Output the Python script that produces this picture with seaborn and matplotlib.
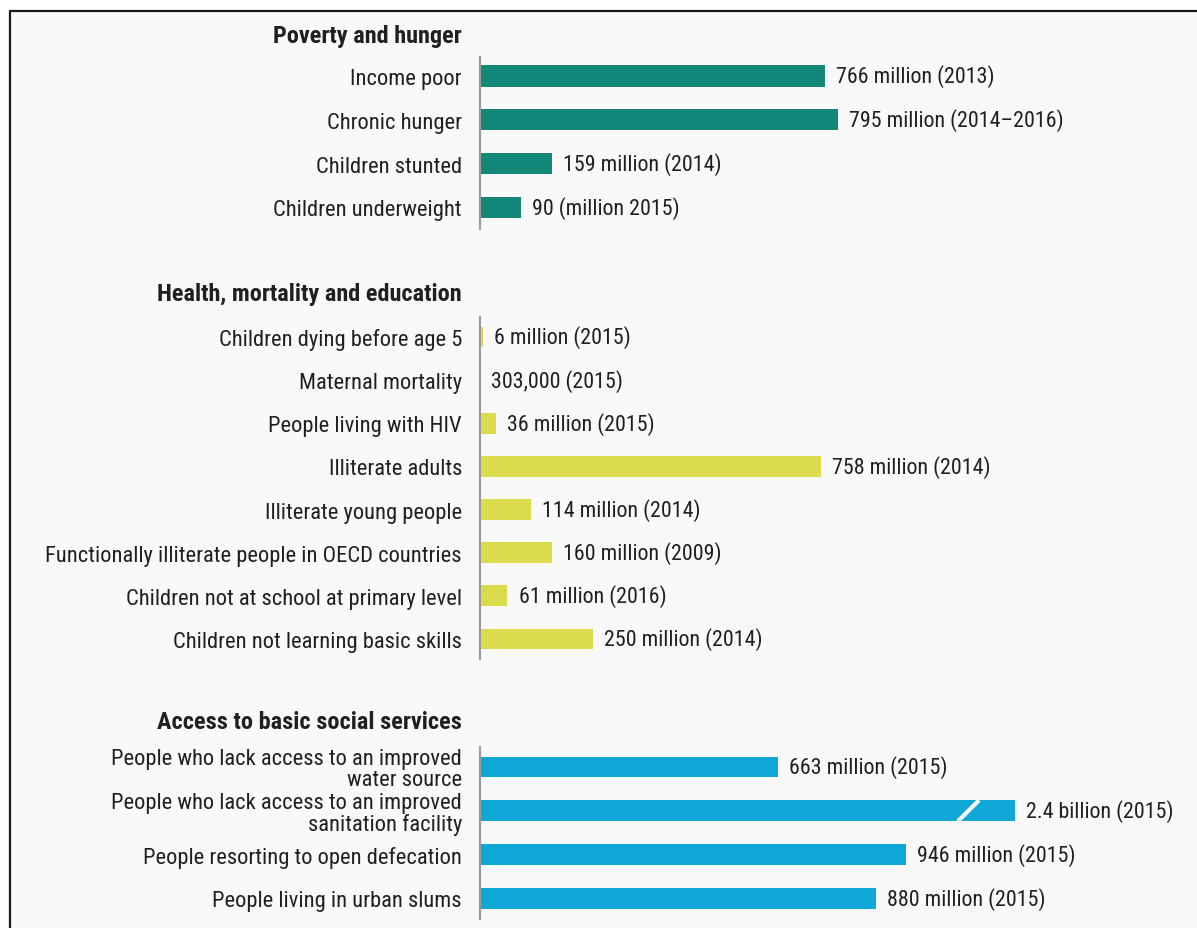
import numpy as np
import pandas as pd
import matplotlib
matplotlib.use("Agg")
import matplotlib.pyplot as plt
from matplotlib import font_manager
from matplotlib.patches import Rectangle
import seaborn as sns

# ---- data (values in millions of people) ----
section_titles = ["Poverty and hunger",
                  "Health, mortality and education",
                  "Access to basic social services"]

poverty_labels = ["Income poor", "Chronic hunger", "Children stunted",
                  "Children underweight"]
poverty_values = [766, 795, 159, 90]
poverty_notes = ["766 million (2013)", "795 million (2014\u20132016)",
                 "159 million (2014)", "90 (million 2015)"]

health_labels = ["Children dying before age 5", "Maternal mortality",
                 "People living with HIV", "Illiterate adults",
                 "Illiterate young people",
                 "Functionally illiterate people in OECD countries",
                 "Children not at school at primary level",
                 "Children not learning basic skills"]
health_values = [6, 0.303, 36, 758, 114, 160, 61, 250]
health_notes = ["6 million (2015)", "303,000 (2015)", "36 million (2015)",
                "758 million (2014)", "114 million (2014)",
                "160 million (2009)", "61 million (2016)",
                "250 million (2014)"]

services_labels = ["People who lack access to an improved\nwater source",
                   "People who lack access to an improved\nsanitation facility",
                   "People resorting to open defecation",
                   "People living in urban slums"]
services_values = [663, 2400, 946, 880]
services_notes = ["663 million (2015)", "2.4 billion (2015)",
                  "946 million (2015)", "880 million (2015)"]

# ---- style ----
W, H = 1197, 929
sns.set_theme(style="white")

# prefer a condensed face; fall back to DejaVu Sans at a smaller size
installed = {f.name for f in font_manager.fontManager.ttflist}
narrow = [n for n in ("Roboto Condensed", "Liberation Sans Narrow",
                      "DejaVu Sans Condensed") if n in installed]
if narrow:
    plt.rcParams["font.family"] = [narrow[0], "DejaVu Sans"]
    FS, FS_NOTE, FS_HEAD = 16.2, 15.8, 17.5
else:
    plt.rcParams["font.family"] = ["DejaVu Sans"]
    FS, FS_NOTE, FS_HEAD = 12.8, 12.6, 13.5

TEXT = "#231f20"
TEAL, LIME, BLUE = "#138878", "#dadc4c", "#0fa8d6"
PX_PER_MILLION = 0.45
AX_LEFT, AX_RIGHT = 480, 1190
X_MAX = (AX_RIGHT - AX_LEFT) / PX_PER_MILLION
BAR_CAP = 1189          # bars longer than this are drawn broken
BAR_WIDTH = 0.48

fig = plt.figure(figsize=(W / 100, H / 100), dpi=100)
fig.patch.set_facecolor("white")

# panel background with a dark frame on top and left
fig.patches.append(Rectangle((10 / W, -0.05), 1.2, (1 - 12 / H) + 0.05,
                             transform=fig.transFigure, facecolor="#f9f9f9",
                             edgecolor="#1a1a1a", lw=1.6, zorder=-5))


def add_section(title, title_y, top, bottom, first_center, pitch,
                labels, values, notes, color):
    ax = fig.add_axes([AX_LEFT / W, 1 - bottom / H,
                       (AX_RIGHT - AX_LEFT) / W, (bottom - top) / H])
    drawn = [min(v, BAR_CAP) for v in values]
    df = pd.DataFrame({"label": labels, "value": drawn})
    sns.barplot(data=df, x="value", y="label", orient="h", color=color,
                saturation=1, width=BAR_WIDTH, ax=ax, linewidth=0)
    ax.set_xlim(0, X_MAX)
    ax.set_ylim((bottom - first_center) / pitch, (top - first_center) / pitch)
    ax.set_facecolor("none")
    for side in ("top", "right", "bottom"):
        ax.spines[side].set_visible(False)
    ax.spines["left"].set_color("#9b9b9b")
    ax.spines["left"].set_linewidth(1.5)
    ax.set_xticks([])
    ax.set_xlabel("")
    ax.set_ylabel("")
    ax.tick_params(axis="y", length=0, pad=13, labelsize=FS,
                   labelcolor=TEXT)
    for t in ax.get_yticklabels():
        t.set_linespacing(1.0)

    for i, (v, d, note) in enumerate(zip(values, drawn, notes)):
        ax.annotate(note, xy=(d, i), xytext=(8, 0),
                    textcoords="offset points", va="center", ha="left",
                    fontsize=FS_NOTE, color=TEXT)
        if v > BAR_CAP:
            # diagonal break mark on a truncated bar
            x0 = BAR_CAP - 127
            ax.plot([x0, x0 + 47], [i + BAR_WIDTH / 2, i - BAR_WIDTH / 2],
                    color="#f9f9f9", lw=3, solid_capstyle="butt")

    fig.text(462 / W, 1 - title_y / H, title, ha="right", va="center",
             fontsize=FS_HEAD, fontweight="bold", color=TEXT)
    return ax


add_section(section_titles[0], 36, 58, 230, 77, 43.8,
            poverty_labels, poverty_values, poverty_notes, TEAL)
add_section(section_titles[1], 295, 318, 660, 338, 43.14,
            health_labels, health_values, health_notes, LIME)
add_section(section_titles[2], 723, 748, 920, 768, 43.7,
            services_labels, services_values, services_notes, BLUE)

fig.savefig("out.png", dpi=100, facecolor=fig.get_facecolor())
